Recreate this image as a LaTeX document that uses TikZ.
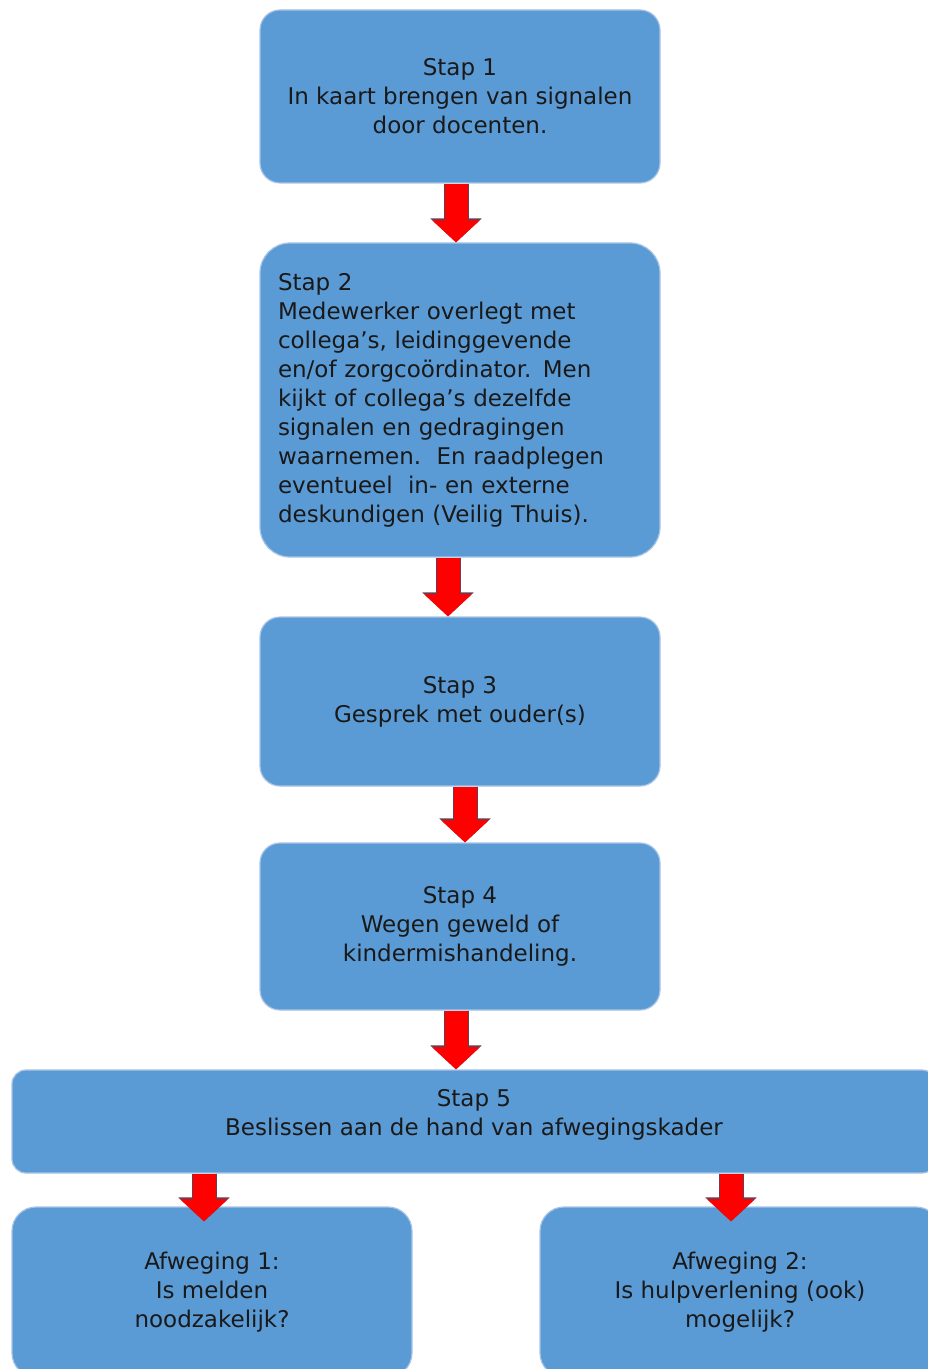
\documentclass[tikz,border=0pt]{standalone}
\usepackage{fontspec}
\setmainfont{DejaVu Sans}
\usetikzlibrary{arrows.meta,positioning}

\definecolor{stapblauw}{HTML}{5B9BD5}
\definecolor{randblauw}{HTML}{A7C3E6}
\definecolor{pijlrood}{HTML}{FF0000}
\definecolor{pijlrand}{HTML}{6E3A4E}

\tikzset{
  stapbox/.style={draw=randblauw, line width=0.6pt, fill=stapblauw, rounded corners=10pt,
    minimum width=200pt, align=center, text=black!90,
    font=\fontsize{11.5}{14.5}\selectfont},
  pijl/.style={draw=pijlrood, line width=11.5pt, -{Triangle[width=23pt,length=11pt]},
    preaction={draw=pijlrand, line width=12.5pt, -{Triangle[width=25pt,length=12pt]}}}
}

\begin{document}
\begin{tikzpicture}[x=0.5pt, y=-0.5pt]
  \useasboundingbox (0,0) rectangle (927,1369);

  % ================= stappen =================
  \node[stapbox, minimum height=86.5pt] (s1) at (460,96.5)
    {Stap 1\\In kaart brengen van signalen\\door docenten.};

  \node[stapbox, minimum height=157pt, rounded corners=15pt, align=left,
        text width=182pt, inner xsep=9pt] (s2) at (460,400)
    {Stap 2\\Medewerker overlegt met\\collega’s, leidinggevende\\en/of zorgcoördinator. Men\\kijkt of collega’s dezelfde\\signalen en gedragingen\\waarnemen.\ \ En raadplegen\\eventueel\ \ in- en externe\\deskundigen (Veilig Thuis).};

  \node[stapbox, minimum height=84.5pt] (s3) at (460,701.5)
    {Stap 3\\Gesprek met ouder(s)};

  \node[stapbox, minimum height=83.5pt] (s4) at (460,926.5)
    {Stap 4\\Wegen geweld of\\kindermishandeling.};

  \node[stapbox, minimum height=51.5pt, minimum width=462pt, rounded corners=7pt,
        text depth=9pt] (s5) at (474,1121.5)
    {Stap 5\\Beslissen aan de hand van afwegingskader};

  % ================= afwegingen =================
  \node[stapbox, minimum height=85pt, rounded corners=12pt] (a1) at (212,1292)
    {Afweging 1:\\Is melden\\noodzakelijk?};
  \node[stapbox, minimum height=85pt, rounded corners=12pt] (a2) at (740,1292)
    {Afweging 2:\\Is hulpverlening (ook)\\mogelijk?};

  % ================= pijlen =================
  \draw[pijl] ([xshift=-2pt]s1.south) -- ([xshift=-2pt]s2.north);
  \draw[pijl] ([xshift=-6pt]s2.south) -- ([xshift=-6pt]s3.north);
  \draw[pijl] ([xshift=2.5pt]s3.south) -- ([xshift=2.5pt]s4.north);
  \draw[pijl] ([xshift=-2pt]s4.south) -- ([xshift=-2pt]s4.south |- s5.north);
  \draw[pijl] ([xshift=-4pt]a1.north |- s5.south) -- ([xshift=-4pt,yshift=-7.5pt]a1.north);
  \draw[pijl] ([xshift=-4.5pt]a2.north |- s5.south) -- ([xshift=-4.5pt,yshift=-7.5pt]a2.north);
\end{tikzpicture}
\end{document}
